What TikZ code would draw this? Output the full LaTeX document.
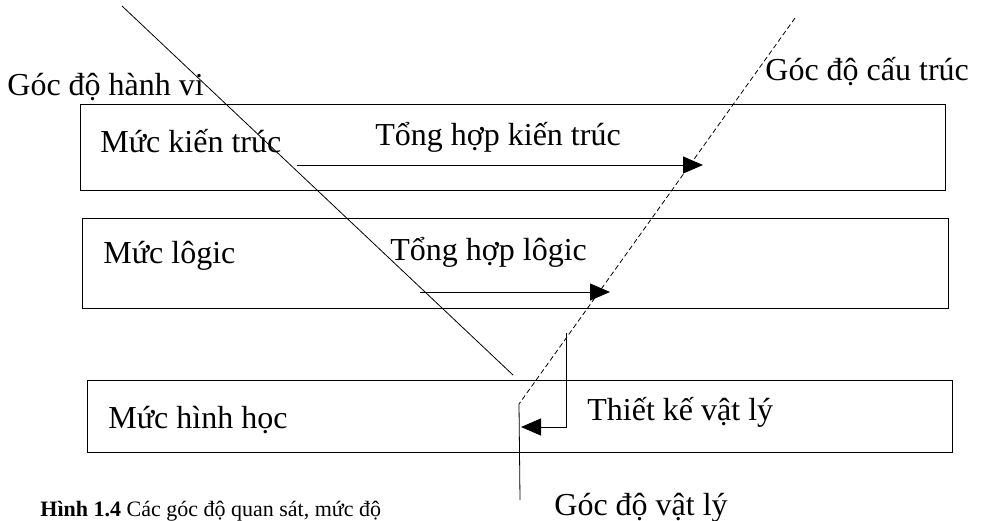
\documentclass[tikz,border=0pt]{standalone}
\usepackage{fontspec}
\setmainfont{Liberation Serif}
\usetikzlibrary{arrows.meta, positioning, calc}
\tikzstyle{level} = [rectangle, draw=black, line width=0.6pt, inner sep=0pt, anchor=north west]
\tikzstyle{lbl} = [anchor=base west, inner sep=0pt, font=\fontsize{16}{19}\selectfont]
\tikzstyle{captext} = [anchor=base west, inner sep=0pt, font=\fontsize{11}{13}\selectfont]
\tikzstyle{arrow} = [line width=0.5pt, -{Triangle[length=10pt,width=8.5pt]}]
\tikzstyle{view} = [line width=0.4pt]

\begin{document}
\begin{tikzpicture}[x=0.5pt, y=-0.5pt]
\useasboundingbox (0,0) rectangle (994,520);
\node (arch) [level, minimum width=432.5pt, minimum height=43pt] at (80,104) {};
\node (logic) [level, minimum width=433pt, minimum height=45pt] at (82,218) {};
\node (geo) [level, minimum width=432.5pt, minimum height=36pt] at (87,380) {};

\node (tarch) [lbl] at (100,152) {Mức kiến trúc};
\node (tsynarch) [lbl] at (375,145) {Tổng hợp kiến trúc};
\node (tlogic) [lbl] at (103,263) {Mức lôgic};
\node (tsynlogic) [lbl] at (390,260) {Tổng hợp lôgic};
\node (tgeo) [lbl] at (108,428) {Mức hình học};
\node (tphys) [lbl] at (587,420) {Thiết kế vật lý};
\node (vbeh) [lbl] at (7,95) {Góc độ hành vi};
\node (vstruct) [lbl] at (765,80) {Góc độ cấu trúc};
\node (vphys) [lbl] at (554,515) {Góc độ vật lý};
\node (caption) [captext] at (40,516) {\textbf{Hình 1.4} Các góc độ quan sát, mức độ};

\coordinate (behtop) at (122,6);
\coordinate (behend) at (513,375);
\coordinate (strtop) at (795,18);
\coordinate (strend) at (519,404);
\coordinate (phyend) at (520,500);
\coordinate (archs) at (297,165);
\coordinate (arche) at (703,165);
\coordinate (logics) at (420,292);
\coordinate (logice) at (610,292);
\coordinate (physs) at (566,333);
\coordinate (physe) at (521,427);

\draw[view] (behtop) -- (behend);
\draw[view, dash pattern=on 2.5pt off 1.5pt] (strtop) -- (strend);
\draw[view] (strend) -- (phyend);
\draw[arrow] (archs) -- (arche);
\draw[arrow] (logics) -- (logice);
\draw[arrow] (physs) |- (physe);
\end{tikzpicture}
\end{document}
